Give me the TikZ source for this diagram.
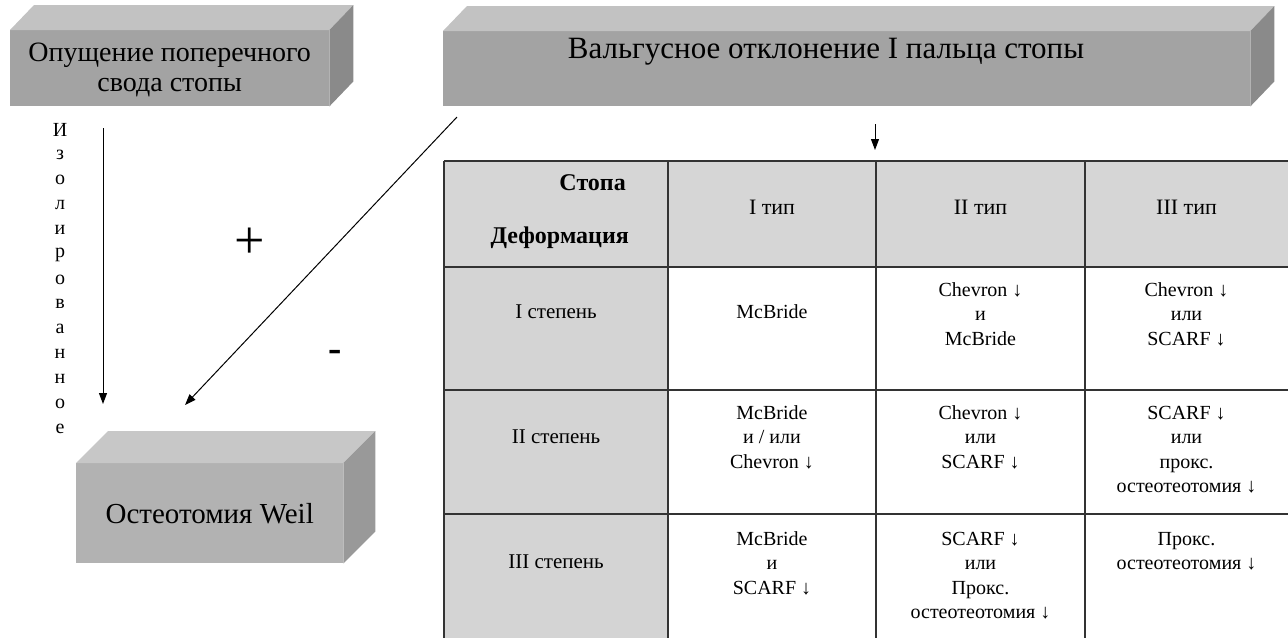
\documentclass[tikz,border=0pt]{standalone}
\usepackage{fontspec}
\setmainfont{Liberation Serif}
\usetikzlibrary{arrows.meta}
\definecolor{frontA}{gray}{0.64}
\definecolor{topA}{gray}{0.76}
\definecolor{sideA}{gray}{0.54}
\definecolor{frontB}{gray}{0.70}
\definecolor{topB}{gray}{0.78}
\definecolor{sideB}{gray}{0.60}
\definecolor{hdrgray}{gray}{0.84}
\definecolor{colgray}{gray}{0.83}
\definecolor{gridcol}{gray}{0.2}
\newcommand\st{\rule{0pt}{14pt}}
\begin{document}
\begin{tikzpicture}[x=1pt,y=-1pt,
  boxface/.style={inner sep=0pt, align=center, anchor=north west},
  boxfont/.style={font=\fontsize{28}{30}\selectfont},
  celltext/.style={font=\fontsize{20}{24.5}\selectfont, align=center, inner sep=0pt, anchor=north},
  labeltext/.style={font=\fontsize{21}{24.5}\selectfont, align=center, inner sep=0pt, anchor=north},
  hdrtext/.style={font=\fontsize{22}{24}\selectfont, inner sep=0pt, anchor=base},
  hdrbold/.style={font=\bfseries\fontsize{24}{26}\selectfont, inner sep=0pt, anchor=base east},
  vlet/.style={font=\fontsize{20}{24}\selectfont, inner sep=0pt},
  cellfill/.style={inner sep=0pt, anchor=north west, draw=none},
  gridline/.style={draw=gridcol, line width=1.1pt},
  arr/.style={-{Triangle[length=11pt,width=8pt]}, line width=1pt},
  sign/.style={inner sep=0pt}
]
\useasboundingbox (0,0) rectangle (1288,638);

% ---------- box 1 ----------
\node[boxface, boxfont, fill=frontA, minimum width=319pt, minimum height=76pt] (b1) at (10,30) {\rule{0pt}{22pt}Опущение поперечного\\свода стопы};
\fill[topA] (b1.north west) -- ++(24,-25) -- ([shift={(24,-25)}]b1.north east) -- (b1.north east) -- cycle;
\fill[sideA] (b1.north east) -- ++(24,-25) -- ([shift={(24,-25)}]b1.south east) -- (b1.south east) -- cycle;

% ---------- box 2 ----------
\node[boxface, fill=frontA, minimum width=807pt, minimum height=75pt] (b2) at (443,31) {};
\fill[topA] (b2.north west) -- ++(24,-25) -- ([shift={(24,-25)}]b2.north east) -- (b2.north east) -- cycle;
\fill[sideA] (b2.north east) -- ++(24,-25) -- ([shift={(24,-25)}]b2.south east) -- (b2.south east) -- cycle;
\node[font=\fontsize{31}{33}\selectfont, inner sep=0pt] (b2t) at (826,52) {Вальгусное отклонение I пальца стопы};

% ---------- box 3 ----------
\node[boxface, font=\fontsize{29}{31}\selectfont, fill=frontB, minimum width=267pt, minimum height=100pt] (b3) at (76,463) {Остеотомия Weil};
\fill[topB] (b3.north west) -- ++(32,-32) -- ([shift={(32,-32)}]b3.north east) -- (b3.north east) -- cycle;
\fill[sideB] (b3.north east) -- ++(32,-32) -- ([shift={(32,-32)}]b3.south east) -- (b3.south east) -- cycle;

% ---------- vertical text ----------
\foreach \ch [count=\i from 0] in {И,з,о,л,и,р,о,в,а,н,н,о,е}
  \node[vlet] (v\i) at (60,{130+24.9*\i}) {\ch};

% ---------- arrows ----------
\coordinate (va1) at (103,128);
\coordinate (va2) at (103,404);
\draw[arr] (va1) -- (va2);
\coordinate (da1) at (457,117);
\coordinate (da2) at (185,405);
\draw[arr] (da1) -- (da2);
\coordinate (sa1) at (875,124);
\coordinate (sa2) at (875,150);
\draw[arr] (sa1) -- (sa2);

\node[sign, font=\fontsize{54}{54}\selectfont] (plus) at (250,243) {+};
\node[sign, font=\bfseries\fontsize{40}{40}\selectfont] (minus) at (335,356) {-};

% ---------- table fills ----------
\node[cellfill, fill=hdrgray, minimum width=844pt, minimum height=106pt] (hdr) at (444,161) {};
\node[cellfill, fill=colgray, minimum width=224pt, minimum height=371pt] (col1) at (444,267) {};

% grid
\draw[gridline] (444,161) -- (1288,161);
\draw[gridline] (444,267) -- (1288,267);
\draw[gridline] (444,390) -- (1288,390);
\draw[gridline] (444,514) -- (1288,514);
\draw[gridline] (444,161) -- (444,638);
\draw[gridline] (668,161) -- (668,638);
\draw[gridline] (876,161) -- (876,638);
\draw[gridline] (1085,161) -- (1085,638);

% header text
\node[hdrbold] (hS) at (626,190) {Стопа};
\node[hdrbold] (hD) at (629,243) {Деформация};
\node[hdrtext] (h1) at (772,214) {I тип};
\node[hdrtext] (h2) at (980.5,214) {II тип};
\node[hdrtext] (h3) at (1186.5,214) {III тип};

% row 1
\node[labeltext] (r1l) at (556,304) {\st I степень};
\node[celltext] (r1a) at (772,304) {\st McBride};
\node[celltext] (r1b) at (980.5,282) {\st Chevron ↓\\и\\McBride};
\node[celltext] (r1c) at (1186.5,282) {\st Chevron ↓\\или\\SCARF ↓};

% row 2
\node[labeltext] (r2l) at (556,429) {\st II степень};
\node[celltext] (r2a) at (772,405) {\st McBride\\и / или\\Chevron ↓};
\node[celltext] (r2b) at (980.5,405) {\st Chevron ↓\\или\\SCARF ↓};
\node[celltext] (r2c) at (1186.5,405) {\st SCARF ↓\\или\\прокс.\\остеотеотомия ↓};

% row 3
\node[labeltext] (r3l) at (556,554) {\st III степень};
\node[celltext] (r3a) at (772,531) {\st McBride\\и\\SCARF ↓};
\node[celltext] (r3b) at (980.5,531) {\st SCARF ↓\\или\\Прокс.\\остеотеотомия ↓};
\node[celltext] (r3c) at (1186.5,531) {\st Прокс.\\остеотеотомия ↓};
\end{tikzpicture}
\end{document}
